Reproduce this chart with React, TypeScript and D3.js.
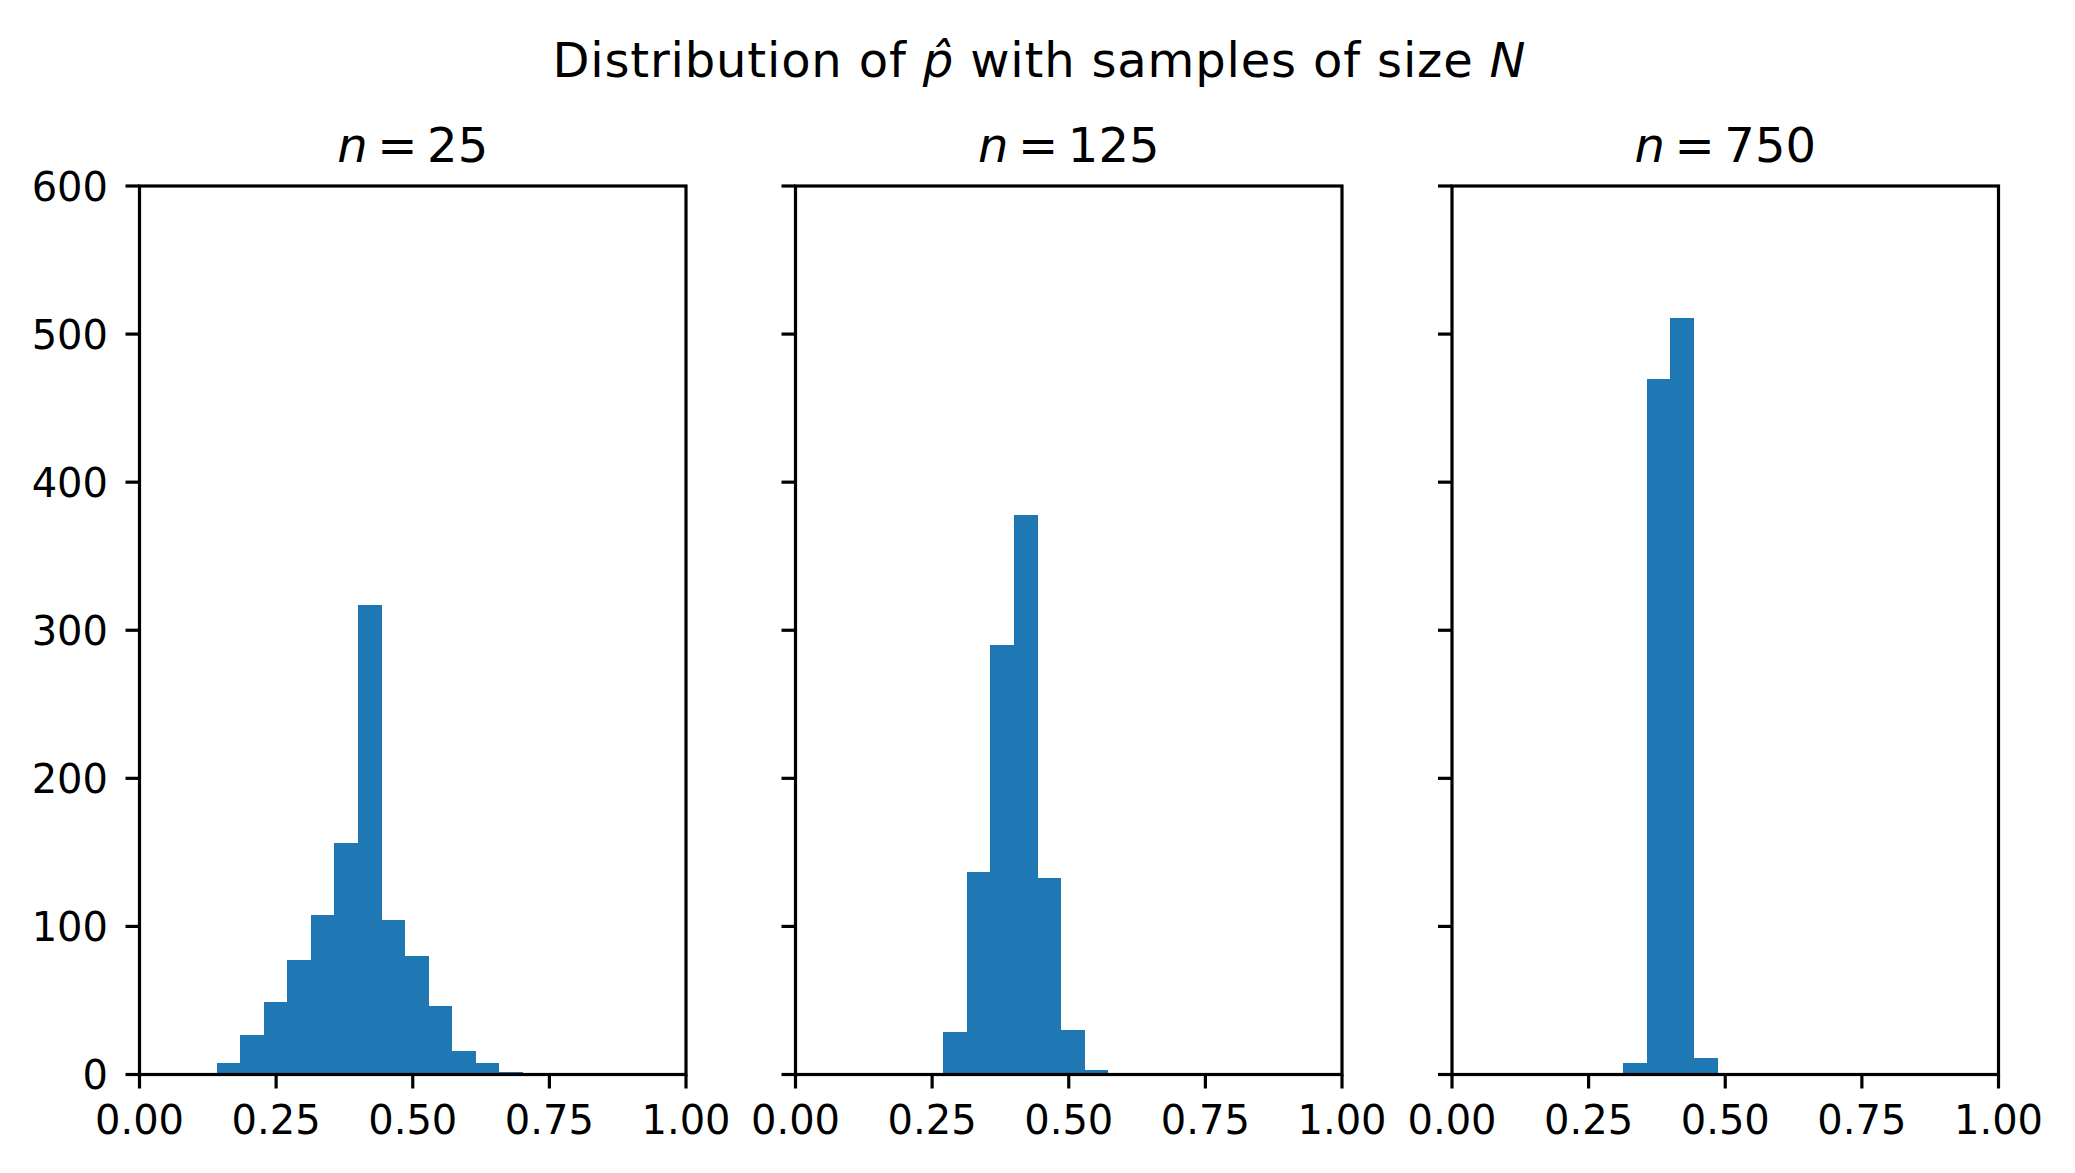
import * as d3 from "d3";

const WIDTH = 2075;
const HEIGHT = 1173;

// shared histogram bin edges (p-hat)
const binEdges = [0.141, 0.184, 0.227, 0.27, 0.313, 0.356, 0.399, 0.442, 0.485, 0.528, 0.571, 0.614, 0.657, 0.7];

const sampleSizes = ["25", "125", "750"];
// index of the first non-empty bin for each panel
const firstBin = [0, 3, 4];
const counts25 = [8, 27, 49, 77, 108, 156, 317, 104, 80, 46, 16, 8, 2];
const counts125 = [29, 137, 290, 378, 133, 30, 3];
const counts750 = [8, 470, 511, 11];
const panelCounts = [counts25, counts125, counts750];

const xTicks = [0, 0.25, 0.5, 0.75, 1];
const yTicks = [0, 100, 200, 300, 400, 500, 600];

const PANEL_LEFT = [139.5, 795.5, 1452];
const PANEL_W = 546.5;
const TOP = 186;
const BOTTOM = 1074.5;
const BLUE = "#1f77b4";
const FONT = "DejaVu Sans";
const LW = 3.2;
const TICK = 14;

const Panel = ({ idx }: { idx: number }) => {
  const left = PANEL_LEFT[idx];
  const x = d3.scaleLinear().domain([0, 1]).range([left, left + PANEL_W]);
  const y = d3.scaleLinear().domain([0, 600]).range([BOTTOM, TOP]);
  const data = panelCounts[idx];
  const start = firstBin[idx];

  return (
    <g>
      <g shapeRendering="crispEdges">
        {data.map((c, i) => {
          const x0 = x(binEdges[start + i]);
          const x1 = x(binEdges[start + i + 1]);
          return (
            <rect key={i} x={x0} y={y(c)} width={x1 - x0 + 0.6} height={y(0) - y(c)} fill={BLUE} />
          );
        })}
      </g>
      <rect x={left} y={TOP} width={PANEL_W} height={BOTTOM - TOP} fill="none" stroke="#000" strokeWidth={LW} strokeLinejoin="miter" />
      {xTicks.map((t) => (
        <g key={"x" + t}>
          <line x1={x(t)} x2={x(t)} y1={BOTTOM} y2={BOTTOM + TICK} stroke="#000" strokeWidth={LW} />
          <text x={x(t)} y={BOTTOM + 59.5} textAnchor="middle" fontFamily={FONT} fontSize={40}>
            {d3.format(".2f")(t)}
          </text>
        </g>
      ))}
      {yTicks.map((t) => (
        <g key={"y" + t}>
          <line x1={left - TICK} x2={left} y1={y(t)} y2={y(t)} stroke="#000" strokeWidth={LW} />
          {idx === 0 && (
            <text x={left - 31.5} y={y(t) + 14.6} textAnchor="end" fontFamily={FONT} fontSize={40}>
              {t}
            </text>
          )}
        </g>
      ))}
      <text x={left + PANEL_W / 2} y={TOP - 24} textAnchor="middle" fontFamily={FONT} fontSize={48}>
        <tspan fontStyle="italic">n</tspan>
        <tspan>{"\u2009=\u2009" + sampleSizes[idx]}</tspan>
      </text>
    </g>
  );
};

export default function App() {
  return (
    <svg
      width={WIDTH}
      height={HEIGHT}
      style={{ position: "absolute", left: 0, top: 0, background: "#fff" }}
    >
      <rect width={WIDTH} height={HEIGHT} fill="#fff" />
      <text
        x={1039}
        y={76.7}
        textAnchor="middle"
        fontFamily={FONT}
        fontSize={48}
        textLength={973}
        lengthAdjust="spacing"
      >
        <tspan>Distribution of </tspan>
        <tspan fontStyle="italic">{"p\u0302"}</tspan>
        <tspan> with samples of size </tspan>
        <tspan fontStyle="italic">N</tspan>
      </text>
      {[0, 1, 2].map((i) => (
        <Panel key={i} idx={i} />
      ))}
    </svg>
  );
}
